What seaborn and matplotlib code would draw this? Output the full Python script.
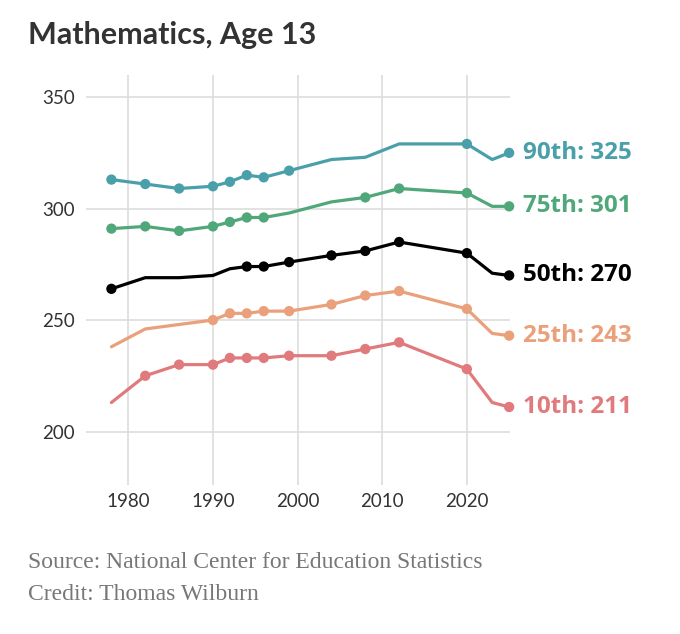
import pandas as pd
import matplotlib.pyplot as plt
import seaborn as sns

# NAEP long-term trend, mathematics age 13, score by percentile
years = [1978, 1982, 1986, 1990, 1992, 1994, 1996, 1999, 2004, 2008, 2012, 2020, 2023, 2025]
p90 = [313, 311, 309, 310, 312, 315, 314, 317, 322, 323, 329, 329, 322, 325]
p75 = [291, 292, 290, 292, 294, 296, 296, 298, 303, 305, 309, 307, 301, 301]
p50 = [264, 269, 269, 270, 273, 274, 274, 276, 279, 281, 285, 280, 271, 270]
p25 = [238, 246, 248, 250, 253, 253, 254, 254, 257, 261, 263, 255, 244, 243]
p10 = [213, 225, 230, 230, 233, 233, 233, 234, 234, 237, 240, 228, 213, 211]

# points drawn with a dot (1 = dot)
dots90 = [1, 1, 1, 1, 1, 1, 1, 1, 0, 0, 0, 1, 0, 1]
dots75 = [1, 1, 1, 1, 1, 1, 1, 0, 0, 1, 1, 1, 0, 1]
dots50 = [1, 0, 0, 0, 0, 1, 1, 1, 1, 1, 1, 1, 0, 1]
dots25 = [0, 0, 0, 1, 1, 1, 1, 1, 1, 1, 1, 1, 0, 1]
dots10 = [0, 1, 1, 1, 1, 1, 1, 1, 1, 1, 1, 1, 0, 1]

names = ["90th", "75th", "50th", "25th", "10th"]
colors = ["#4aa0aa", "#50a87a", "#000000", "#eaa07a", "#e07a7c"]

frames = []
for name, vals, dots in zip(names,
                            [p90, p75, p50, p25, p10],
                            [dots90, dots75, dots50, dots25, dots10]):
    frames.append(pd.DataFrame({"year": years, "score": vals,
                                "dot": dots, "pct": name}))
df = pd.concat(frames, ignore_index=True)
palette = dict(zip(names, colors))

sns.set_style("white")
plt.rcParams["font.family"] = "Lato"

fig = plt.figure(figsize=(6.8, 6.34), dpi=100)
ax = fig.add_axes([0.1265, 0.235, 0.6235, 0.647])

sns.lineplot(data=df, x="year", y="score", hue="pct", palette=palette,
             linewidth=2.3, legend=False, ax=ax, clip_on=False, zorder=3)
sns.scatterplot(data=df[df["dot"] == 1], x="year", y="score", hue="pct",
                palette=palette, s=55, edgecolor="none", legend=False,
                ax=ax, clip_on=False, zorder=4)

# end labels
for name, vals, c in zip(names, [p90, p75, p50, p25, p10], colors):
    ax.annotate(f"{name}: {vals[-1]}", (years[-1], vals[-1]),
                xytext=(10, 0), textcoords="offset points",
                va="center", ha="left", fontsize=17.5, fontweight="bold",
                family="Open Sans", color=c, annotation_clip=False)

ax.set_xlim(1975, 2025.1)
ax.set_ylim(176, 360)
ax.set_xticks([1980, 1990, 2000, 2010, 2020])
ax.set_yticks([200, 250, 300, 350])
ax.grid(True, color="#dddddd", linewidth=1.2)
ax.set_axisbelow(True)
for s in ax.spines.values():
    s.set_visible(False)
ax.tick_params(axis="both", length=0, labelsize=13.5, labelcolor="#333333")
ax.tick_params(axis="y", pad=8)
ax.tick_params(axis="x", pad=6)
ax.set_xlabel("")
ax.set_ylabel("")

fig.text(0.041, 0.93, "Mathematics, Age 13", fontsize=22, fontweight="bold",
         color="#333333", va="baseline", ha="left")
fig.text(0.041, 0.104, "Source: National Center for Education Statistics",
         fontsize=17, color="#777777", family="Liberation Serif",
         va="baseline", ha="left")
fig.text(0.041, 0.054, "Credit: Thomas Wilburn",
         fontsize=17, color="#777777", family="Liberation Serif",
         va="baseline", ha="left")

fig.savefig("out.png", dpi=100)
